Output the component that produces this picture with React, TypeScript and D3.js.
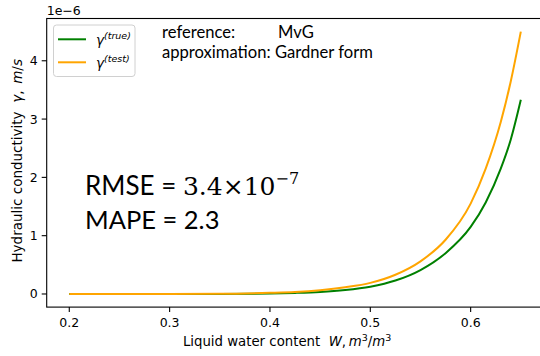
import React from "react";
import * as d3 from "d3";

// Liquid water content W (m³/m³) and hydraulic conductivity γ (×1e-6 m/s)
const waterContent = [0.2, 0.25, 0.3, 0.35, 0.4, 0.425, 0.45, 0.475, 0.5, 0.525, 0.55, 0.575, 0.6, 0.615, 0.63, 0.64, 0.65];
const gammaTrue = [0, 0, 0, 0.001, 0.008, 0.018, 0.035, 0.068, 0.125, 0.23, 0.41, 0.7, 1.15, 1.57, 2.15, 2.65, 3.33];
const gammaTest = [0, 0, 0.001, 0.003, 0.02, 0.035, 0.065, 0.115, 0.19, 0.33, 0.56, 0.93, 1.55, 2.15, 2.95, 3.65, 4.5];

const xTicks = [0.2, 0.3, 0.4, 0.5, 0.6];
const yTicks = [0, 1, 2, 3, 4];

const WIDTH = 540;
const HEIGHT = 356;

export default function App() {
  const x = d3.scaleLinear().domain([0.1775, 0.6725]).range([46.7, 543.4]);
  const y = d3.scaleLinear().domain([-0.225, 4.725]).range([307.1, 18.5]);

  const line = d3
    .line<[number, number]>()
    .x((d) => x(d[0]))
    .y((d) => y(d[1]))
    .curve(d3.curveMonotoneX);

  const truePath = line(waterContent.map((w, i) => [w, gammaTrue[i]]) as [number, number][]) || "";
  const testPath = line(waterContent.map((w, i) => [w, gammaTest[i]]) as [number, number][]) || "";

  const [x0, x1] = x.range();
  const [y0, y1] = y.range();
  const tickFont = "DejaVu Sans, sans-serif";

  return (
    <svg
      width={WIDTH}
      height={HEIGHT}
      style={{ position: "absolute", left: 0, top: 0, background: "#fff" }}
      fontFamily={tickFont}
    >
      <rect width={WIDTH} height={HEIGHT} fill="#fff" />

      {/* curves */}
      <path d={truePath} fill="none" stroke="#008000" strokeWidth={2} />
      <path d={testPath} fill="none" stroke="#ffa500" strokeWidth={2} />

      {/* frame */}
      <rect x={x0} y={y1} width={x1 - x0} height={y0 - y1} fill="none" stroke="#000" strokeWidth={1.1} />

      {/* x ticks */}
      {xTicks.map((t) => (
        <g key={"x" + t}>
          <line x1={x(t)} x2={x(t)} y1={y0} y2={y0 + 5} stroke="#000" strokeWidth={1.1} />
          <text x={x(t)} y={y0 + 20} textAnchor="middle" fontSize={12.5} fill="#000">
            {t.toFixed(1)}
          </text>
        </g>
      ))}

      {/* y ticks */}
      {yTicks.map((t) => (
        <g key={"y" + t}>
          <line x1={x0 - 5} x2={x0} y1={y(t)} y2={y(t)} stroke="#000" strokeWidth={1.1} />
          <text x={x0 - 9} y={y(t) + 4.5} textAnchor="end" fontSize={12.5} fill="#000">
            {t}
          </text>
        </g>
      ))}

      {/* offset text */}
      <text x={x0} y={15} fontSize={12.5} fill="#000">1e−6</text>

      {/* axis labels */}
      <text x={(x0 + x1) / 2 - 8} y={346} textAnchor="middle" fontSize={13.3} fill="#000">
        {"Liquid water content\u00a0\u00a0"}
        <tspan fontStyle="italic">W</tspan>,{"\u2009"}<tspan fontStyle="italic">m</tspan>
        <tspan dy={-5} fontSize={9.5}>3</tspan>
        <tspan dy={5}>/</tspan>
        <tspan fontStyle="italic">m</tspan>
        <tspan dy={-5} fontSize={9.5}>3</tspan>
      </text>
      <text
        transform={`translate(22, ${(y0 + y1) / 2 - 2}) rotate(-90)`}
        textAnchor="middle"
        fontSize={13.5}
        fill="#000"
      >
        {"Hydraulic conductivity\u00a0\u00a0"}
        <tspan fontStyle="italic">γ</tspan>,{"\u2002"}<tspan fontStyle="italic">m</tspan>/<tspan fontStyle="italic">s</tspan>
      </text>

      {/* legend */}
      <rect x={53.5} y={25} width={81.5} height={51.5} rx={3} fill="#fff" stroke="#d0d0d0" strokeWidth={1} />
      <line x1={58} x2={86} y1={39.3} y2={39.3} stroke="#008000" strokeWidth={2} />
      <line x1={58} x2={86} y1={62.3} y2={62.3} stroke="#ffa500" strokeWidth={2} />
      <text x={96} y={45} fontSize={13.5} fill="#000">
        <tspan fontStyle="italic">γ</tspan>
        <tspan dy={-6} fontSize={9.5} fontStyle="italic">(true)</tspan>
      </text>
      <text x={96} y={68} fontSize={13.5} fill="#000">
        <tspan fontStyle="italic">γ</tspan>
        <tspan dy={-6} fontSize={9.5} fontStyle="italic">(test)</tspan>
      </text>

      {/* annotations */}
      <g fontFamily="Lato, sans-serif" fontSize={16.6} fill="#000">
        <text x={162} y={38}>reference:</text>
        <text x={278} y={38}>MvG</text>
        <text x={162} y={58}>approximation: Gardner form</text>
      </g>
      <g fontSize={26} fill="#000">
        <text x={85} y={195}>
          <tspan fontFamily="Lato, sans-serif">RMSE = </tspan>
          <tspan fontFamily="DejaVu Serif, serif" fontSize={25}>3.4×10</tspan>
          <tspan fontFamily="DejaVu Serif, serif" fontSize={16} dy={-11}>−7</tspan>
        </text>
        <text x={85} y={228.5} fontFamily="Lato, sans-serif" fontSize={25.5}>MAPE = 2.3</text>
      </g>
    </svg>
  );
}
